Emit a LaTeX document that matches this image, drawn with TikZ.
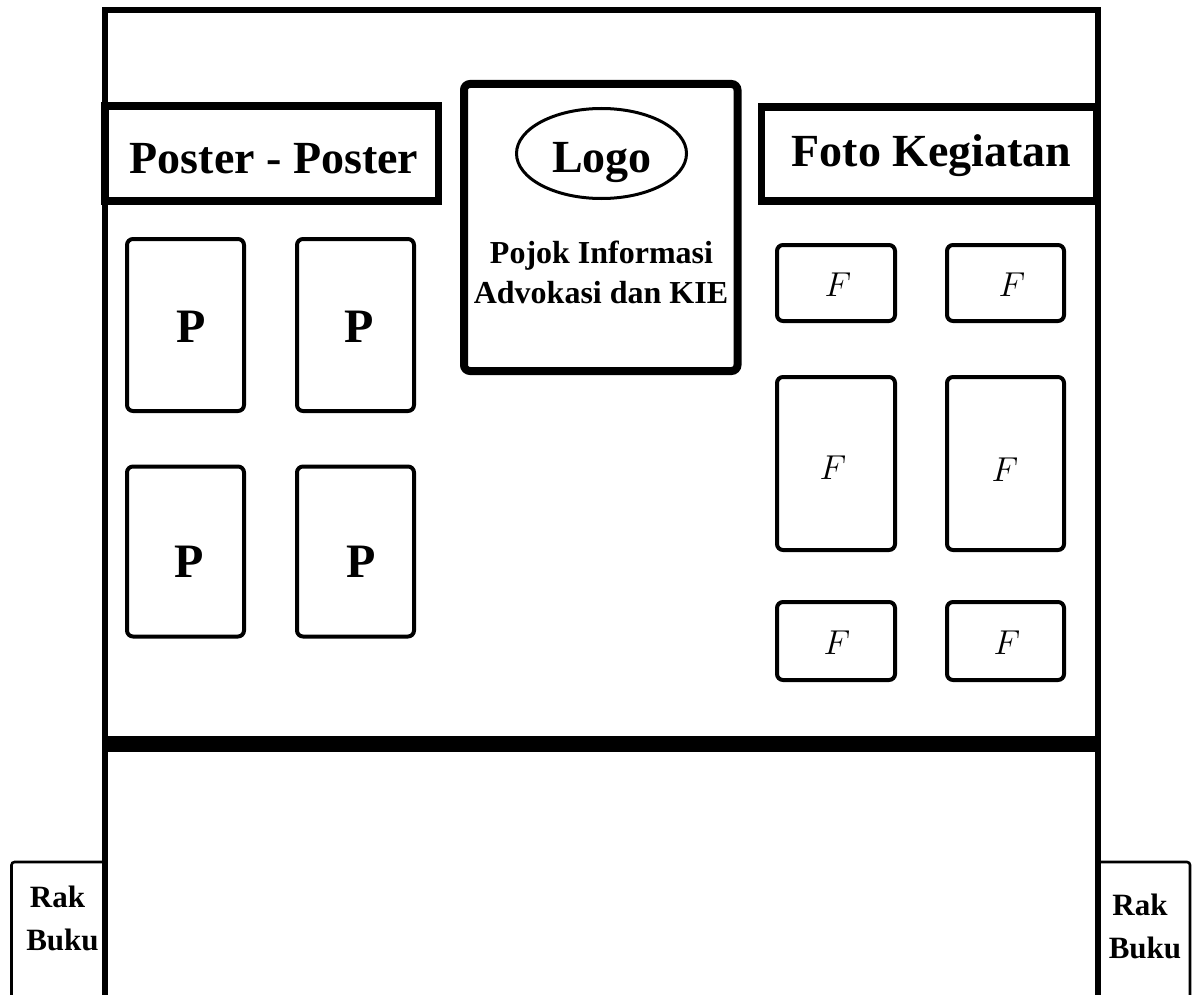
\documentclass[tikz,border=0pt]{standalone}
\usepackage{fontspec}
\setmainfont{Liberation Serif}
\usetikzlibrary{shapes.geometric}
\begin{document}
\begin{tikzpicture}[x=0.5pt,y=-0.5pt,
  frameline/.style={line width=2.9pt, line join=miter},
  barline/.style={line width=7.8pt},
  header/.style={draw, rectangle, line width=3.6pt, inner sep=0pt},
  centerbox/.style={draw, rectangle, rounded corners=3pt, line width=4pt, inner sep=0pt},
  logoshape/.style={draw, ellipse, line width=1.5pt, inner sep=0pt, minimum width=85pt, minimum height=45pt},
  board/.style={draw, rectangle, rounded corners=3pt, line width=2pt, inner sep=0pt},
  rakbox/.style={draw, rectangle, rounded corners=1.5pt, line width=1.3pt, inner sep=0pt},
  title/.style={font=\fontsize{23}{27}\selectfont\bfseries, inner sep=0pt, anchor=base},
  subtitle/.style={font=\fontsize{16}{20}\selectfont\bfseries, inner sep=0pt, anchor=base},
  ptext/.style={font=\fontsize{24}{28}\selectfont\bfseries, inner sep=0pt, anchor=base},
  ftext/.style={font=\fontsize{17.28}{20}\selectfont, inner sep=0pt, anchor=center},
  raktext/.style={font=\fontsize{15.5}{19}\selectfont\bfseries, inner sep=0pt, anchor=base}
]
\useasboundingbox[fill=white] (0,0) rectangle (1199,995);

% book shelves
\node[rakbox, minimum width=46.75pt, minimum height=74pt] (rakL) at (58.25,936) {};
\node[rakbox, minimum width=46pt, minimum height=74pt] (rakR) at (1144,936) {};
\node[raktext] (rakL1) at (57.5,907) {Rak};
\node[raktext] (rakL2) at (62.5,950) {Buku};
\node[raktext] (rakR1) at (1140,915) {Rak};
\node[raktext] (rakR2) at (1145,958) {Buku};

% outer frame and the thick bar
\coordinate (fbl) at (105,1000);
\coordinate (ftl) at (105,10);
\coordinate (ftr) at (1098,10);
\coordinate (fbr) at (1098,1000);
\draw[frameline] (fbl) -- (ftl) -- (ftr) -- (fbr);
\coordinate (barL) at (105,744);
\coordinate (barR) at (1098,744);
\draw[barline] (barL) -- (barR);

% headers
\node[header, minimum width=166.75pt, minimum height=47.5pt] (posterhead) at (271.75,153.5) {};
\node[title] (postertxt) at (274,173) {Poster - Poster};
\node[header, minimum width=167.75pt, minimum height=47pt] (fotohead) at (929.25,154) {};
\node[title] (fototxt) at (931.5,167) {Foto Kegiatan};

% centre box
\node[centerbox, minimum width=136.75pt, minimum height=143.5pt] (center) at (600.75,227.5) {};
\node[logoshape] (logo) at (601.5,153.5) {};
\node[title] (logotxt) at (602,172) {Logo};
\node[subtitle] (pojok) at (601.5,263) {Pojok Informasi};
\node[subtitle] (advo) at (601,303) {Advokasi dan KIE};

% posters
\node[board, minimum width=58.5pt, minimum height=86pt] (p1) at (185.5,325) {};
\node[board, minimum width=58.5pt, minimum height=86pt] (p2) at (355.5,325) {};
\node[board, minimum width=58.5pt, minimum height=85pt] (p3) at (185.5,551.5) {};
\node[board, minimum width=58.5pt, minimum height=85pt] (p4) at (355.5,551.5) {};
\node[ptext] (p1t) at (191,342) {P};
\node[ptext] (p2t) at (359,342) {P};
\node[ptext] (p3t) at (189,577) {P};
\node[ptext] (p4t) at (361,577) {P};

% photos
\node[board, minimum width=59pt, minimum height=38pt] (f1) at (836,283) {};
\node[board, minimum width=58.5pt, minimum height=38pt] (f2) at (1005.5,283) {};
\node[board, minimum width=59pt, minimum height=86.5pt] (f3) at (836,463.5) {};
\node[board, minimum width=58.5pt, minimum height=86.5pt] (f4) at (1005.5,463.5) {};
\node[board, minimum width=59pt, minimum height=39pt] (f5) at (836,641) {};
\node[board, minimum width=58.5pt, minimum height=39pt] (f6) at (1005.5,641) {};
\node[ftext] (f1t) at (838,285) {$F$};
\node[ftext] (f2t) at (1012,285) {$F$};
\node[ftext] (f3t) at (833,468) {$F$};
\node[ftext] (f4t) at (1005,470) {$F$};
\node[ftext] (f5t) at (837,643) {$F$};
\node[ftext] (f6t) at (1007,643) {$F$};
\end{tikzpicture}
\end{document}
